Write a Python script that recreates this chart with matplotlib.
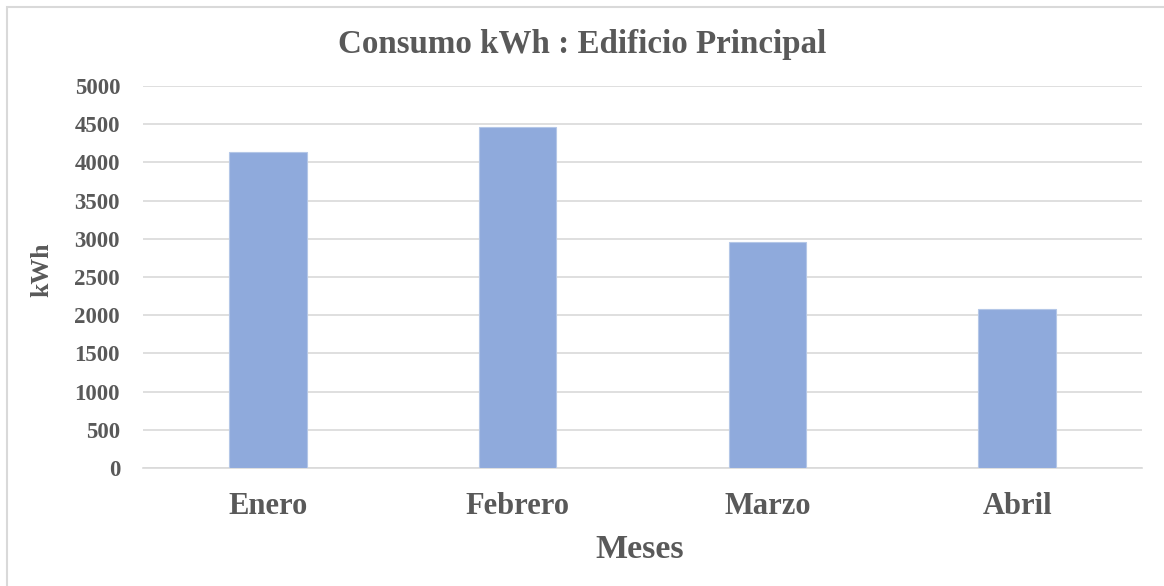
import matplotlib
matplotlib.use("Agg")
import matplotlib.pyplot as plt
from matplotlib.patches import Rectangle

categories = ["Enero", "Febrero", "Marzo", "Abril"]
values = [4140, 4465, 2955, 2075]
yticks = [0, 500, 1000, 1500, 2000, 2500, 3000, 3500, 4000, 4500, 5000]

plt.rcParams['font.family'] = ['Liberation Serif', 'DejaVu Serif']
text_color = '#595959'

fig = plt.figure(figsize=(11.64, 5.86), dpi=100)
ax = fig.add_axes([143/1164, 1 - 468/586, (1142-143)/1164, (468-86)/586])

x = list(range(len(categories)))
ax.bar(x, values, width=0.31, color='#8faadc', edgecolor='#b4c7e7', linewidth=0.8, zorder=3)
ax.set_xlim(-0.5, len(categories) - 0.5)
ax.set_ylim(0, 5000)
ax.set_yticks(yticks)
ax.set_yticklabels([str(t) for t in yticks], fontsize=16.5, fontweight='bold', color=text_color)
ax.set_xticks(x)
ax.set_xticklabels(categories, fontsize=22, fontweight='bold', color=text_color)
ax.tick_params(axis='y', length=0, pad=16.5)
ax.tick_params(axis='x', length=0, pad=17)
ax.yaxis.grid(True, color='#d9d9d9', linewidth=1.2, zorder=0)
for s in ['top', 'right', 'left']:
    ax.spines[s].set_visible(False)
ax.spines['bottom'].set_color('#d9d9d9')
ax.spines['bottom'].set_linewidth(1.2)

fig.text(0.5, 1 - 44/586, "Consumo kWh : Edificio Principal", ha='center', va='center',
         fontsize=23.8, fontweight='bold', color=text_color)
fig.text(640/1164, 1 - 549/586, "Meses", ha='center', va='center',
         fontsize=24.5, fontweight='bold', color=text_color)
fig.text(42/1164, 1 - 270/586, "kWh", ha='center', va='center', rotation=90,
         fontsize=18.5, fontweight='bold', color=text_color)

fig.patches.append(Rectangle((7/1164, -0.1), 1.2, 1 - 7/586 + 0.1, transform=fig.transFigure,
                             fill=False, edgecolor='#d9d9d9', linewidth=1.5, figure=fig))

fig.savefig("out.png", dpi=100)
